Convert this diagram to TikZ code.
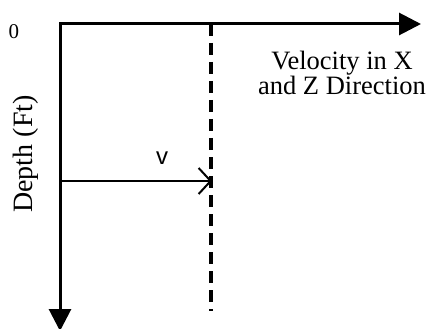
\documentclass[tikz,border=0pt]{standalone}
\usepackage{fontspec}
\setmainfont{Liberation Serif}
\newfontfamily\vsans{Liberation Sans}
\usepackage{tikz}
\usetikzlibrary{positioning,arrows.meta}

\begin{document}
\begin{tikzpicture}[x=1pt,y=-1pt,
  axis/.style={line width=3pt,{Triangle[length=22pt,width=22pt]}-{Triangle[length=22pt,width=22pt]}},
  vel/.style={line width=2.8pt,-{Straight Barb[length=12pt,width=26pt,line width=2pt]}},
  guide/.style={line width=3.5pt,dash pattern=on 12pt off 7pt},
  lbl/.style={font=\fontsize{26.5}{25}\selectfont,align=center,inner sep=0pt}
]
  \useasboundingbox (0,0) rectangle (429,329);
  % axes
  \coordinate (o) at (60,24);
  \coordinate (xend) at (421,24);
  \coordinate (zend) at (60,331);
  \draw[axis] (zend) -- (o) -- (xend);
  % reference line and velocity
  \coordinate (dtop) at (211,24);
  \coordinate (dbot) at (211,311);
  \draw[guide] (dtop) -- (dbot);
  \coordinate (vstart) at (60,181);
  \coordinate (vend) at (212,181);
  \draw[vel] (vstart) -- (vend);
  % labels
  \node[lbl,font=\fontsize{21}{21}\selectfont] (zero) at (14,32) {0};
  \node[lbl,anchor=north] (xlabel) at (342,51) {Velocity in X\\and Z Direction};
  \node[lbl,rotate=90,font=\fontsize{28}{28}\selectfont] (zlabel) at (26,154) {Depth (Ft)};
  \node[lbl,font=\vsans\fontsize{24}{24}\selectfont] (vlabel) at (162,158) {v};
\end{tikzpicture}
\end{document}
